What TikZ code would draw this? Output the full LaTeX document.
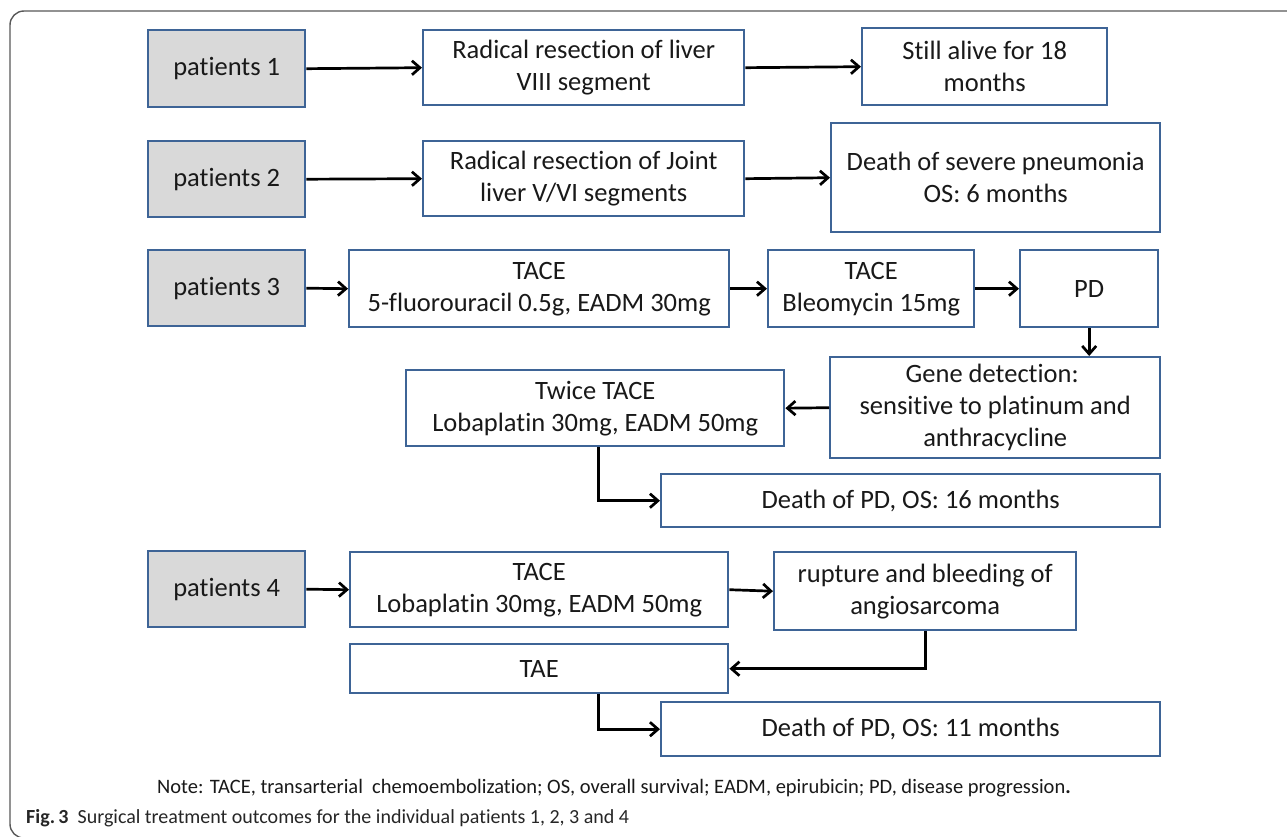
\documentclass[tikz,border=0pt]{standalone}
\usepackage{fontspec}
\setmainfont{Carlito}[Ligatures=NoCommon]
\usetikzlibrary{arrows.meta}
\definecolor{boxblue}{RGB}{62,100,150}
\definecolor{boxgray}{RGB}{217,217,217}
\tikzset{
  box/.style={draw=boxblue, line width=2.4pt, fill=white, anchor=north west, inner sep=0pt, align=center, font=\fontsize{26.5}{32}\selectfont, text=black!90},
  pbox/.style={box, fill=boxgray},
  arr/.style={draw=black, line width=2.7pt, -{Straight Barb[length=8pt,width=14pt,line width=2.7pt]}},
}
\begin{document}
\begin{tikzpicture}[x=1pt,y=-1pt]
\useasboundingbox (0,0) rectangle (1287,837);
\fill[white] (0,0) rectangle (1287,837);
\begin{scope}
\clip (0,0) rectangle (1287,837);
\draw[black!65, line width=1.4pt, rounded corners=14pt] (10,11) rectangle (1400,838);
\end{scope}
% row 1
\node[pbox, minimum width=157pt, minimum height=77pt] (p1) at (147,29) {patients 1};
\node[box, minimum width=321pt, minimum height=75pt] (r1) at (422,29) {Radical resection of liver\\VIII segment};
\node[box, minimum width=245pt, minimum height=77pt] (s1) at (861,27) {Still alive for 18\\months};
% row 2
\node[pbox, minimum width=157pt, minimum height=76pt] (p2) at (147,140) {patients 2};
\node[box, minimum width=321pt, minimum height=75pt] (r2) at (422,140) {Radical resection of Joint\\liver V/VI segments};
\node[box, minimum width=329pt, minimum height=109pt] (s2) at (830,122) {Death of severe pneumonia\\OS: 6 months};
% row 3
\node[pbox, minimum width=157pt, minimum height=76pt] (p3) at (147,249) {patients 3};
\node[box, minimum width=380pt, minimum height=77pt] (t3a) at (348,249) {TACE\\5-fluorouracil 0.5g, EADM 30mg};
\node[box, minimum width=206pt, minimum height=77pt] (t3b) at (767,249) {TACE\\Bleomycin 15mg};
\node[box, minimum width=138pt, minimum height=77pt] (pd) at (1019,249) {PD};
\node[box, minimum width=330pt, minimum height=101pt] (gene) at (829,356) {Gene detection:\phantom{i}\\sensitive to platinum and\\anthracycline};
\node[box, minimum width=378pt, minimum height=76pt] (twice) at (405,369) {Twice TACE\\Lobaplatin 30mg, EADM 50mg};
\node[box, minimum width=499pt, minimum height=53pt] (d3) at (660,473) {Death of PD, OS: 16 months};
% row 4
\node[pbox, minimum width=157pt, minimum height=76pt] (p4) at (147,550) {patients 4};
\node[box, minimum width=378pt, minimum height=75pt] (t4) at (349,551) {TACE\\Lobaplatin 30mg, EADM 50mg};
\node[box, minimum width=302pt, minimum height=78pt] (rup) at (773,551) {rupture and bleeding of\\angiosarcoma};
\node[box, minimum width=378pt, minimum height=49pt] (tae) at (349,643) {TAE};
\node[box, minimum width=499pt, minimum height=54pt] (d4) at (660,701) {Death of PD, OS: 11 months};
% arrows
\draw[arr] (p1.east) -- (r1.west);
\draw[arr] (r1.east) -- (s1.west);
\draw[arr] (p2.east) -- (r2.west);
\draw[arr] (r2.east) -- (s2.west);
\draw[arr] (p3.east) -- (t3a.west);
\draw[arr] (t3a.east) -- (t3b.west);
\draw[arr] (t3b.east) -- (pd.west);
\draw[arr] (pd.south) -- (pd.south |- gene.north);
\draw[arr] (gene.west) -- (twice.east);
\draw[arr] ([xshift=3pt]twice.south) |- (d3.west);
\draw[arr] (p4.east) -- (t4.west);
\draw[arr] (t4.east) -- (rup.west);
\draw[arr] (rup.south) |- (tae.east);
\coordinate (taeout) at ([xshift=59pt]tae.south);
\draw[arr] (taeout) |- (d4.west);
% note and caption
\node[font=\fontsize{20.5}{24}\selectfont, text=black!90, anchor=base] (note) at (614,793) {Note: TACE, transarterial\ \ chemoembolization; OS, overall survival; EADM, epirubicin; PD, disease progression\textbf{.}};
\node[font=\fontsize{20}{24}\selectfont, text=black!85, anchor=base west, inner sep=0pt] (cap) at (26,823) {\textbf{Fig.\,3}\ \ Surgical treatment outcomes for the individual patients 1, 2, 3 and 4};
\end{tikzpicture}
\end{document}
